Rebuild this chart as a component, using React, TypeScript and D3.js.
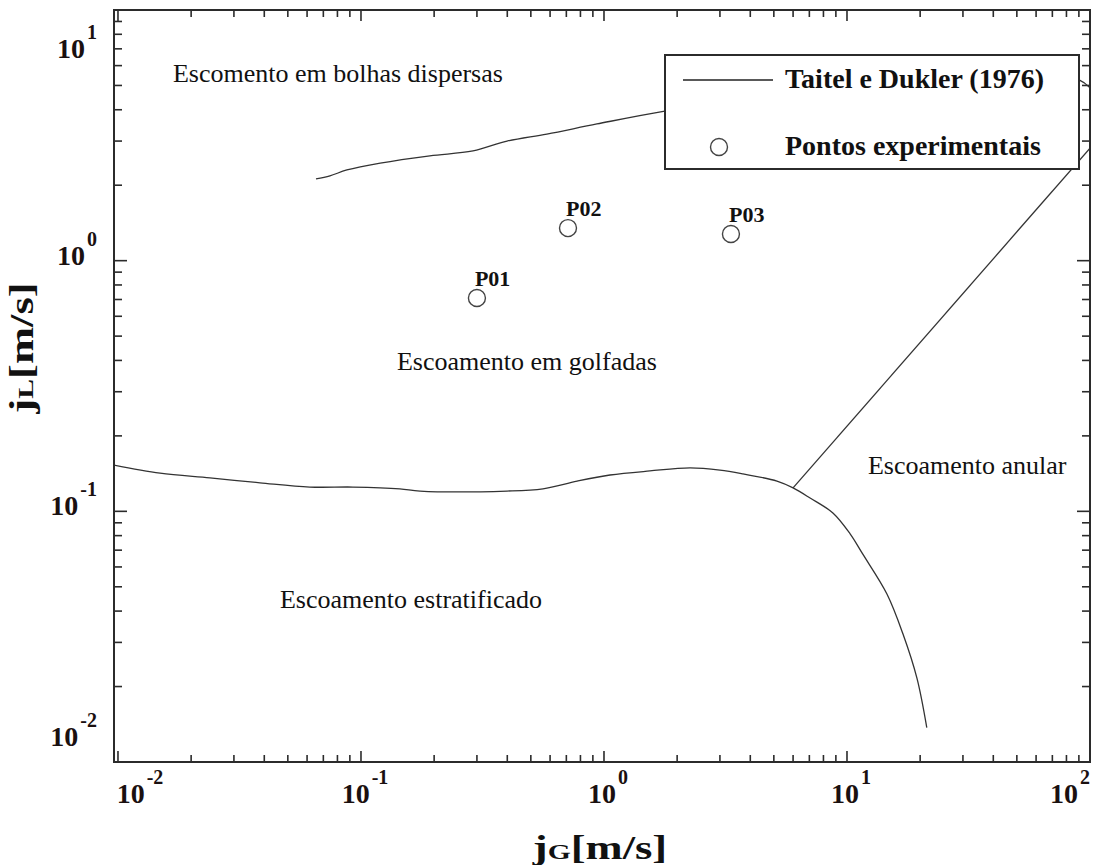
import React, { useEffect, useRef } from 'react';
import * as d3 from 'd3';

// Taitel e Dukler (1976) boundaries (jG, jL in m/s)
const bubbleJG = [0.0653, 0.0745, 0.0875, 0.12, 0.192, 0.289, 0.399, 0.582, 0.935, 1.78, 6.4, 26.5, 56.6, 90.2, 100];
const bubbleJL = [2.12, 2.18, 2.3, 2.45, 2.62, 2.74, 3.0, 3.2, 3.51, 3.95, 4.76, 5.61, 5.71, 5.26, 4.89];

const stratJG = [0.00963, 0.0149, 0.0239, 0.0384, 0.0616, 0.0927, 0.1445, 0.175, 0.399, 0.561, 0.775, 1.059, 1.545, 2.26, 3.0, 3.73, 5.15, 6.0, 7.05, 8.75, 10.3, 11.6, 14.6, 17.0, 19.4, 21.3];
const stratJL = [0.153, 0.142, 0.136, 0.13, 0.125, 0.125, 0.123, 0.1205, 0.1205, 0.123, 0.132, 0.1396, 0.1449, 0.149, 0.146, 0.141, 0.132, 0.124, 0.113, 0.0985, 0.0813, 0.0676, 0.0468, 0.0324, 0.0216, 0.0137];

const annularJG = [6.0, 100];
const annularJL = [0.124, 2.81];

// experimental points
const pointNames = ['P01', 'P02', 'P03'];
const pointJG = [0.3, 0.711, 3.33];
const pointJL = [0.71, 1.349, 1.278];

// flow regime labels (anchored at text start, in data units)
const regionNames = ['Escomento em bolhas dispersas', 'Escoamento em golfadas', 'Escoamento anular', 'Escoamento estratificado'];
const regionJG = [0.01683, 0.1406, 12.2, 0.0464];
const regionJL = [5.16, 0.3664, 0.141, 0.0411];

const xTicks = [0.01, 0.1, 1, 10, 100];
const xTickExp = ['-2', '-1', '0', '1', '2'];
const yTicks = [0.01, 0.1, 1, 10];
const yTickExp = ['-2', '-1', '0', '1'];

const FONT = '"Liberation Serif", "Times New Roman", serif';
const INK = '#2b2b2b';

const App = () => {
  const ref = useRef<SVGSVGElement>(null);

  useEffect(() => {
    const svg = d3.select(ref.current);
    svg.selectAll('*').remove();

    const width = 1102;
    const height = 865;
    const left = 114, right = 1090, top = 10, bottom = 762;

    const x = d3.scaleLog().domain([0.00963, 100]).range([left, right]);
    const y = d3.scaleLog().domain([0.01, 10]).range([bottom, top]);

    svg.attr('width', width).attr('height', height);

    svg.append('clipPath').attr('id', 'plot-clip')
      .append('rect')
      .attr('x', left).attr('y', top)
      .attr('width', right - left).attr('height', bottom - top);

    // minor / major ticks on all four sides, pointing inward
    const minorX = d3.range(-2, 2).flatMap(e => d3.range(2, 10).map(m => m * Math.pow(10, e)));
    const minorY = d3.range(-2, 1).flatMap(e => d3.range(2, 10).map(m => m * Math.pow(10, e)));

    const ticks = svg.append('g').attr('stroke', INK).attr('stroke-width', 1.6);
    const addX = (vals: number[], len: number) => {
      vals.filter(v => x(v) >= left && x(v) <= right).forEach(v => {
        ticks.append('line').attr('x1', x(v)).attr('x2', x(v)).attr('y1', bottom).attr('y2', bottom - len);
        ticks.append('line').attr('x1', x(v)).attr('x2', x(v)).attr('y1', top).attr('y2', top + len);
      });
    };
    const addY = (vals: number[], len: number) => {
      vals.forEach(v => {
        ticks.append('line').attr('x1', left).attr('x2', left + len).attr('y1', y(v)).attr('y2', y(v));
        ticks.append('line').attr('x1', right).attr('x2', right - len).attr('y1', y(v)).attr('y2', y(v));
      });
    };
    addX(minorX, 7);
    addX(xTicks, 11);
    addY(minorY, 8);
    addY(yTicks, 13);

    // boundaries
    const line = d3.line<[number, number]>()
      .x(d => x(d[0]))
      .y(d => y(d[1]))
      .curve(d3.curveCatmullRom.alpha(0.5));

    const curves = svg.append('g').attr('clip-path', 'url(#plot-clip)');
    [
      d3.zip(bubbleJG, bubbleJL),
      d3.zip(stratJG, stratJL),
      d3.zip(annularJG, annularJL),
    ].forEach(pts => {
      curves.append('path')
        .attr('d', line(pts as [number, number][]))
        .attr('fill', 'none')
        .attr('stroke', '#333')
        .attr('stroke-width', 1.3);
    });

    // region labels
    regionNames.forEach((name, i) => {
      svg.append('text')
        .attr('x', x(regionJG[i]))
        .attr('y', y(regionJL[i]))
        .attr('font-family', FONT)
        .attr('font-size', 26)
        .attr('fill', '#111')
        .text(name);
    });

    // experimental points
    pointNames.forEach((name, i) => {
      svg.append('circle')
        .attr('cx', x(pointJG[i]))
        .attr('cy', y(pointJL[i]))
        .attr('r', 8.5)
        .attr('fill', 'white')
        .attr('stroke', '#444')
        .attr('stroke-width', 1.4);
      svg.append('text')
        .attr('x', x(pointJG[i]) - 2)
        .attr('y', y(pointJL[i]) - 12)
        .attr('font-family', FONT)
        .attr('font-weight', 'bold')
        .attr('font-size', 22)
        .attr('fill', '#111')
        .text(name);
    });

    // frame
    svg.append('rect')
      .attr('x', left).attr('y', top)
      .attr('width', right - left).attr('height', bottom - top)
      .attr('fill', 'none')
      .attr('stroke', INK)
      .attr('stroke-width', 2);

    // legend (white box hides the curves behind it)
    const lg = svg.append('g');
    lg.append('rect')
      .attr('x', 665).attr('y', 55).attr('width', 414).attr('height', 114)
      .attr('fill', 'white').attr('stroke', INK).attr('stroke-width', 2);
    lg.append('line')
      .attr('x1', 683).attr('x2', 773).attr('y1', 80).attr('y2', 80)
      .attr('stroke', '#222').attr('stroke-width', 1.6);
    lg.append('circle')
      .attr('cx', 719).attr('cy', 147).attr('r', 8.5)
      .attr('fill', 'white').attr('stroke', '#444').attr('stroke-width', 1.4);
    [['Taitel e Dukler (1976)', 88], ['Pontos experimentais', 155]].forEach(([t, yy]) => {
      lg.append('text')
        .attr('x', 785).attr('y', yy as number)
        .attr('font-family', FONT).attr('font-weight', 'bold').attr('font-size', 28)
        .attr('fill', '#111')
        .text(t as string);
    });

    // tick labels
    xTicks.forEach((v, i) => {
      const cx = Math.max(140, Math.min(1070, x(v) + 4));
      const t = svg.append('text')
        .attr('x', cx).attr('y', 803)
        .attr('text-anchor', 'middle')
        .attr('font-family', FONT).attr('font-weight', 'bold').attr('font-size', 28)
        .attr('fill', '#1a1010');
      t.append('tspan').text('10');
      t.append('tspan').attr('dy', -19).attr('dx', 2).attr('font-size', 20).text(xTickExp[i]);
    });
    yTicks.forEach((v, i) => {
      const cy = Math.max(58, Math.min(746, y(v) + 4));
      const t = svg.append('text')
        .attr('x', 97).attr('y', cy)
        .attr('text-anchor', 'end')
        .attr('font-family', FONT).attr('font-weight', 'bold').attr('font-size', 28)
        .attr('fill', '#1a1010');
      t.append('tspan').text('10');
      t.append('tspan').attr('dy', -19).attr('dx', 2).attr('font-size', 20).text(yTickExp[i]);
    });

    // axis titles
    const xt = svg.append('text')
      .attr('transform', 'translate(600,859) scale(1.35,1)')
      .attr('text-anchor', 'middle')
      .attr('font-family', FONT).attr('font-weight', 'bold').attr('font-size', 33)
      .attr('fill', '#111');
    xt.append('tspan').text('j');
    xt.append('tspan').attr('font-size', 22).text('G');
    xt.append('tspan').text('[m/s]');

    const yt = svg.append('text')
      .attr('transform', 'translate(33,348) rotate(-90) scale(1.35,1)')
      .attr('text-anchor', 'middle')
      .attr('font-family', FONT).attr('font-weight', 'bold').attr('font-size', 33)
      .attr('fill', '#111');
    yt.append('tspan').text('j');
    yt.append('tspan').attr('font-size', 22).text('L');
    yt.append('tspan').text('[m/s]');
  }, []);

  return <svg ref={ref} style={{ position: 'absolute', left: 0, top: 0, background: 'white' }} />;
};

export default App;
